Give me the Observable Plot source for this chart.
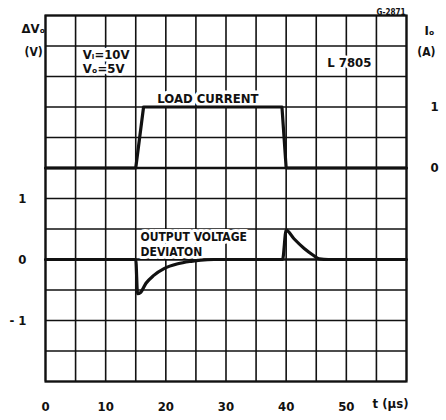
<!DOCTYPE html>
<html>
<head>
<meta charset="utf-8">
<script src="https://cdn.jsdelivr.net/npm/d3@7"></script>
<script src="https://cdn.jsdelivr.net/npm/@observablehq/plot@0.6"></script>
<style>
  html, body { margin: 0; padding: 0; background: #fff; }
</style>
</head>
<body>
<div id="chart"></div>
<script>
// Time axis (µs)
const xTicks = [0, 10, 20, 30, 40, 50];
const xGrid = d3.range(0, 61, 5);
// ΔVo axis (V)
const vTicks = [-1, 0, 1];
// Io axis (A), drawn in the upper panel offset by 1.5 V-units
const ioTicks = [0, 1];
const ioOffset = 1.5;
const yGrid = d3.range(-2, 4.001, 0.5);

// Load current
const timeCurrent = [0, 15, 16.3, 39.3, 40, 60];
const loadCurrent = [0, 0, 1, 1, 0, 0];

// Output voltage deviation
const timeVoltage = [0, 15, 15.3, 15.8, 16.7, 18, 19.7, 22, 24.2, 25.8, 28, 39.4, 40, 41.3, 43, 44.5, 45.5, 47, 60];
const voltageDev = [0, 0, -0.56, -0.54, -0.39, -0.26, -0.15, -0.07, -0.03, -0.01, 0, 0, 0.48, 0.34, 0.18, 0.07, 0.01, 0, 0];

const currentData = timeCurrent.map((t, i) => ({t, io: loadCurrent[i]}));
const voltageData = timeVoltage.map((t, i) => ({t, v: voltageDev[i]}));

const font = "'DejaVu Sans Condensed', 'Liberation Sans Narrow', 'DejaVu Sans', sans-serif";

const chart = Plot.plot({
  width: 446,
  height: 420,
  marginLeft: 45,
  marginRight: 40,
  marginTop: 15,
  marginBottom: 39,
  style: {fontFamily: font, fontWeight: "bold", fontSize: "13px", color: "#111", background: "#fff"},
  x: {domain: [0, 60]},
  y: {domain: [-2, 4]},
  marks: [
    Plot.ruleX(xGrid, {stroke: "#111", strokeWidth: 1.6}),
    Plot.ruleY(yGrid, {stroke: "#111", strokeWidth: d => (d === 0 || d === ioOffset) ? 2.6 : 1.7}),
    Plot.frame({stroke: "#111", strokeWidth: 2.2}),
    Plot.axisX({ticks: xTicks, tickSize: 0, tickPadding: 20, label: null, fontSize: 13, tickFormat: d => String(d)}),
    Plot.axisY({ticks: vTicks, tickSize: 0, tickPadding: 19, label: null, fontSize: 13, tickFormat: d => d < 0 ? "- " + Math.abs(d) : String(d)}),
    Plot.axisY({anchor: "right", ticks: ioTicks.map(d => d + ioOffset), tickFormat: d => String(Math.round(d - ioOffset)), tickSize: 0, tickPadding: 24, label: null, fontSize: 13}),
    // Text annotations (white halo hides grid behind)
    Plot.text(["LOAD CURRENT"], {x: 27, y: 2.64, fontSize: 13, stroke: "white", strokeWidth: 7, fill: "#111"}),
    Plot.text(["OUTPUT VOLTAGE"], {x: 15.8, y: 0.36, textAnchor: "start", fontSize: 12, stroke: "white", strokeWidth: 6, fill: "#111"}),
    Plot.text(["DEVIATON"], {x: 15.8, y: 0.12, textAnchor: "start", fontSize: 12, stroke: "white", strokeWidth: 6, fill: "#111"}),
    Plot.text(["Vᵢ=10V"], {x: 6.2, y: 3.35, textAnchor: "start", fontSize: 13, stroke: "white", strokeWidth: 5, fill: "#111"}),
    Plot.text(["Vₒ=5V"], {x: 6.2, y: 3.12, textAnchor: "start", fontSize: 13, stroke: "white", strokeWidth: 5, fill: "#111"}),
    Plot.text(["L 7805"], {x: 50.5, y: 3.23, fontSize: 13, stroke: "white", strokeWidth: 5, fill: "#111"}),
    // Curves
    Plot.line(currentData, {x: "t", y: d => d.io + ioOffset, stroke: "#111", strokeWidth: 3.2, strokeLinejoin: "round"}),
    Plot.line(voltageData, {x: "t", y: "v", stroke: "#111", strokeWidth: 3.2, strokeLinejoin: "round", curve: "monotone-x"}),
    // Axis titles outside the frame
    Plot.text(["ΔVₒ"], {frameAnchor: "top-left", dx: -24, dy: 8, fontSize: 13, fill: "#111"}),
    Plot.text(["(V)"], {frameAnchor: "top-left", dx: -21, dy: 32, fontSize: 12, fill: "#111"}),
    Plot.text(["Iₒ"], {frameAnchor: "top-right", dx: 28, dy: 10, fontSize: 13, fill: "#111"}),
    Plot.text(["(A)"], {frameAnchor: "top-right", dx: 29, dy: 32, fontSize: 12, fill: "#111"}),
    Plot.text(["t (µs)"], {frameAnchor: "bottom-right", textAnchor: "end", dx: 2, dy: 26, fontSize: 13, fill: "#111"}),
    Plot.text(["G-2871"], {frameAnchor: "top-right", textAnchor: "end", dx: -1, dy: -6, fontSize: 8, fill: "#111"})
  ]
});
document.getElementById("chart").appendChild(chart);
</script>
</body>
</html>
